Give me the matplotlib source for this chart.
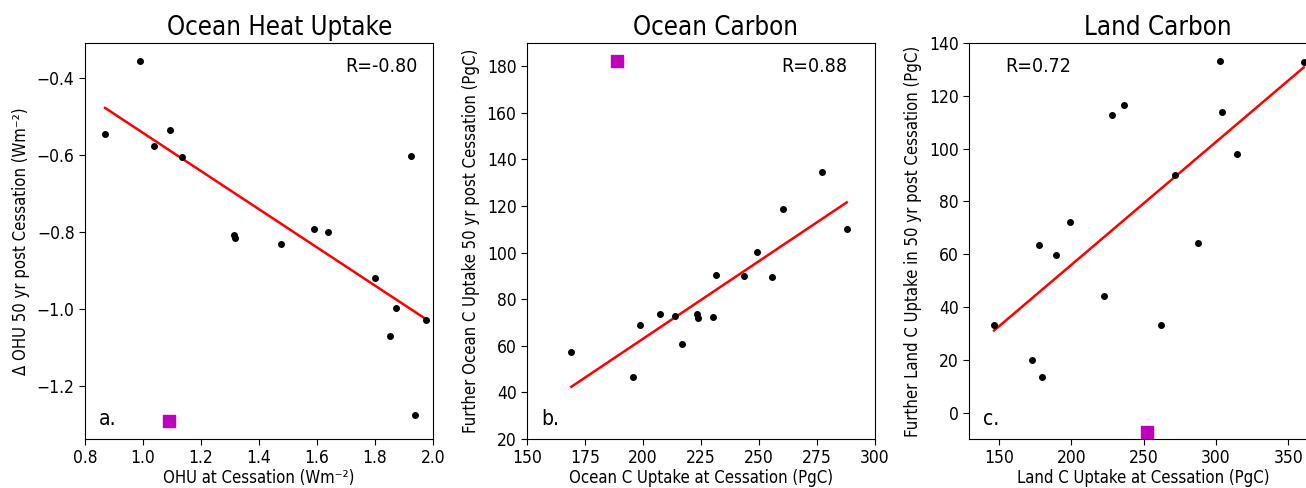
import numpy as np
import matplotlib
matplotlib.use("Agg")
import matplotlib.pyplot as plt

plt.rcParams["font.family"] = ["DejaVu Sans Condensed", "DejaVu Sans"]
plt.rcParams["font.stretch"] = "condensed"

# ── data ─────────────────────────────────────
ohu_x = [0.989, 0.869, 1.092, 1.039, 1.134, 1.312, 1.318, 1.474,
         1.589, 1.638, 1.799, 1.873, 1.977, 1.852, 1.925, 1.937]
ohu_y = [-0.354, -0.545, -0.533, -0.576, -0.605, -0.808, -0.815, -0.830,
         -0.792, -0.799, -0.919, -0.998, -1.028, -1.071, -0.603, -1.275]
ohu_obs = (1.091, -1.290)

ocn_x = [169.1, 195.7, 198.6, 207.5, 213.7, 217.0, 223.2, 223.6,
         230.1, 231.5, 243.5, 249.1, 255.4, 260.5, 277.3, 287.8]
ocn_y = [57.5, 46.5, 68.9, 73.5, 72.7, 60.6, 73.5, 72.1,
         72.2, 90.4, 90.0, 100.1, 89.6, 118.7, 134.5, 110.0]
ocn_obs = (188.7, 182.4)

lnd_x = [146.5, 172.8, 180.0, 177.4, 189.2, 198.8, 222.8, 227.9,
         236.2, 261.8, 271.4, 287.8, 302.8, 304.4, 314.7, 360.8]
lnd_y = [33.3, 19.9, 13.4, 63.4, 59.7, 72.1, 44.2, 112.6,
         116.6, 33.1, 90.1, 64.3, 133.2, 114.0, 97.8, 132.9]
lnd_obs = (252.5, -7.2)

titles = ["Ocean Heat Uptake", "Ocean Carbon", "Land Carbon"]
xlabels = ["OHU at Cessation (Wm\u207b\u00b2)",
           "Ocean C Uptake at Cessation (PgC)",
           "Land C Uptake at Cessation (PgC)"]
ylabels = ["\u0394 OHU 50 yr post Cessation (Wm\u207b\u00b2)",
           "Further Ocean C Uptake 50 yr post Cessation (PgC)",
           "Further Land C Uptake in 50 yr post Cessation (PgC)"]
r_text = ["R=-0.80", "R=0.88", "R=0.72"]
panel = ["a.", "b.", "c."]

fig = plt.figure(figsize=(13.06, 4.88), dpi=100)
lefts = [0.0651, 0.4035, 0.742]
axes = [fig.add_axes([l, 0.1004, 0.2665, 0.8115]) for l in lefts]

sets = [(ohu_x, ohu_y, ohu_obs), (ocn_x, ocn_y, ocn_obs), (lnd_x, lnd_y, lnd_obs)]
r_pos = [(0.955, 0.94, "right"), (0.92, 0.94, "right"), (0.105, 0.94, "left")]
title_x = [0.56, 0.543, 0.543]

for i, ax in enumerate(axes):
    x, y, obs = sets[i]
    x = np.array(x)
    y = np.array(y)
    ax.scatter(x, y, s=16, color="k", zorder=3)
    ax.scatter([obs[0]], [obs[1]], s=64, marker="s", color="m", zorder=3)
    # least-squares fit over the model points
    m, c = np.polyfit(x, y, 1)
    xx = np.array([x.min(), x.max()])
    ax.plot(xx, m * xx + c, color="r", lw=1.8)
    ax.set_title(titles[i], fontsize=18.5, pad=6, x=title_x[i])
    ax.set_xlabel(xlabels[i], fontsize=12, labelpad=1)
    ax.set_ylabel(ylabels[i], fontsize=12, labelpad=5)
    ax.tick_params(labelsize=12.5, length=4)
    rx, ry, ha = r_pos[i]
    ax.text(rx, ry, r_text[i], transform=ax.transAxes, fontsize=14,
            ha=ha, va="center")
    ax.text(0.04, 0.05, panel[i], transform=ax.transAxes, fontsize=15,
            ha="left", va="center")

axes[0].set_xlim(0.8, 2.0)
axes[0].set_ylim(-1.338, -0.308)
axes[0].set_yticks([-1.2, -1.0, -0.8, -0.6, -0.4])
axes[1].set_xlim(150, 300)
axes[1].set_ylim(20, 190)
axes[2].set_xlim(129.2, 370)
axes[2].set_ylim(-10, 140)
axes[2].set_xticks([150, 200, 250, 300, 350])

fig.savefig("out.png", dpi=100)
